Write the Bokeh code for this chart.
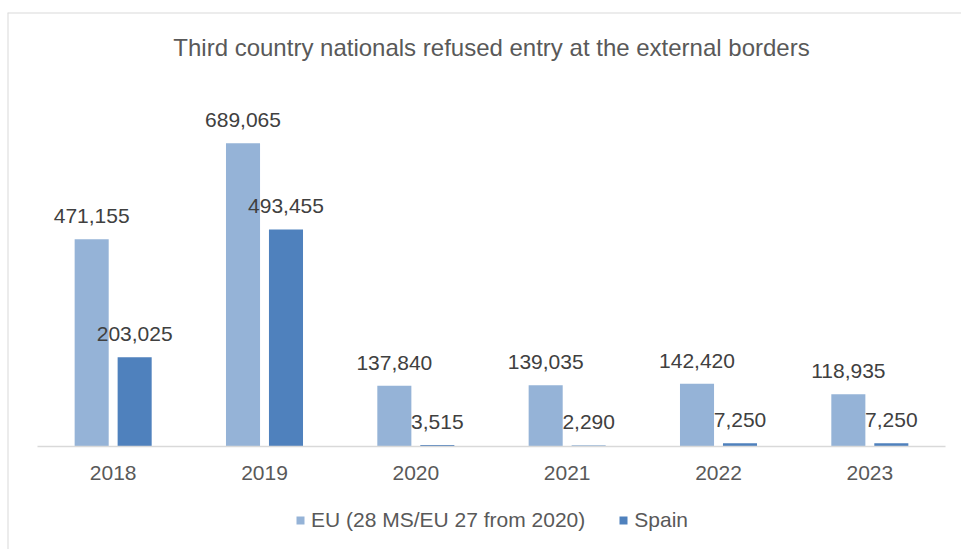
from bokeh.plotting import figure
from bokeh.models import ColumnDataSource, Legend, LegendItem, Range1d, Span, Label
from bokeh.core.properties import value
from bokeh.embed import file_html
from bokeh.resources import INLINE

years = ["2018", "2019", "2020", "2021", "2022", "2023"]
eu = [471155, 689065, 137840, 139035, 142420, 118935]
spain = [203025, 493455, 3515, 2290, 7250, 7250]
series_names = ["EU (28 MS/EU 27 from 2020)", "Spain"]
title_text = "Third country nationals refused entry at the external borders"

# ---- layout (pixels) ----
W, H = 961, 549
BORDER_L, BORDER_T = 7, 12          # chart-area border
CAT_LEFT, CAT_RIGHT = 37, 945       # category band span
BASE_Y, AXIS_TOP_Y = 446, 94        # zero line and value-axis top (pixels)
Y_AXIS_MAX = 800000                 # value at AXIS_TOP_Y

FONT = "Liberation Sans"
EU_COLOR = "#95B3D7"
ES_COLOR = "#4F81BD"
TXT = "#595959"

n = len(years)
pitch = (CAT_RIGHT - CAT_LEFT) / n
k = (BASE_Y - AXIS_TOP_Y) / Y_AXIS_MAX   # px per unit
first_center = CAT_LEFT + pitch / 2
x_start = (BORDER_L - first_center) / pitch
x_end = (W - first_center) / pitch
y_end = (BASE_Y - BORDER_T) / k
y_start = -(H - BASE_Y) / k

idx = list(range(n))
off = 0.142
bw = 0.225
src = ColumnDataSource(dict(
    idx=idx, year=years, eu=eu, spain=spain,
    x_eu=[i - off for i in idx], x_es=[i + off for i in idx],
    base=[0] * n,
    eu_lbl=[f"{v:,}" for v in eu],
    spain_lbl=[f"{v:,}" for v in spain],
))

p = figure(x_range=Range1d(x_start, x_end), y_range=Range1d(y_start, y_end),
           width=W, height=H, output_backend="svg", toolbar_location=None,
           min_border_left=BORDER_L, min_border_top=BORDER_T,
           min_border_right=0, min_border_bottom=0)
p.xaxis.visible = False
p.yaxis.visible = False
p.xgrid.visible = False
p.ygrid.visible = False
p.outline_line_color = None

# chart border (left & top)
p.add_layout(Span(location=x_start, dimension="height", line_color="#d9d9d9", line_width=2))
p.add_layout(Span(location=y_end, dimension="width", line_color="#d9d9d9", line_width=2))

r_eu = p.vbar(x="x_eu", top="eu", bottom="base", width=bw, source=src,
              fill_color=EU_COLOR, line_color=None)
r_es = p.vbar(x="x_es", top="spain", bottom="base", width=bw, source=src,
              fill_color=ES_COLOR, line_color=None)

# category axis line
p.segment(x0=[idx[0] - 0.5], x1=[idx[-1] + 0.5], y0=[0], y1=[0],
          line_color="#d9d9d9", line_width=1.5)

# category labels
p.text(x="idx", y="base", text="year", source=src, text_align="center",
       text_baseline="alphabetic", y_offset=26,
       text_font=value(FONT), text_font_size="21px", text_color=TXT)

# data labels
p.text(x="x_eu", y="eu", text="eu_lbl", source=src,
       text_align="center", text_baseline="alphabetic", y_offset=-23,
       text_font=value(FONT), text_font_size="21px", text_color="#404040")
p.text(x="x_es", y="spain", text="spain_lbl", source=src,
       text_align="center", text_baseline="alphabetic", y_offset=-23,
       text_font=value(FONT), text_font_size="21px", text_color="#404040")

# title
p.add_layout(Label(x=sum(idx) / n, y=H - 47, x_units="data", y_units="screen",
                   text=title_text, text_align="center", text_baseline="middle",
                   text_font=FONT, text_font_size="24px", text_color=TXT))

legend = Legend(items=[LegendItem(label=series_names[0], renderers=[r_eu]),
                       LegendItem(label=series_names[1], renderers=[r_es])],
                orientation="horizontal", location=(295 - BORDER_L, 17),
                glyph_width=10, glyph_height=10, label_standoff=6, spacing=33,
                label_height=24,
                label_text_font=FONT, label_text_font_size="21px", label_text_color=TXT,
                border_line_color=None, background_fill_alpha=0, margin=0, padding=0)
p.add_layout(legend, "center")

open("out.html", "w").write(file_html(p, INLINE))
